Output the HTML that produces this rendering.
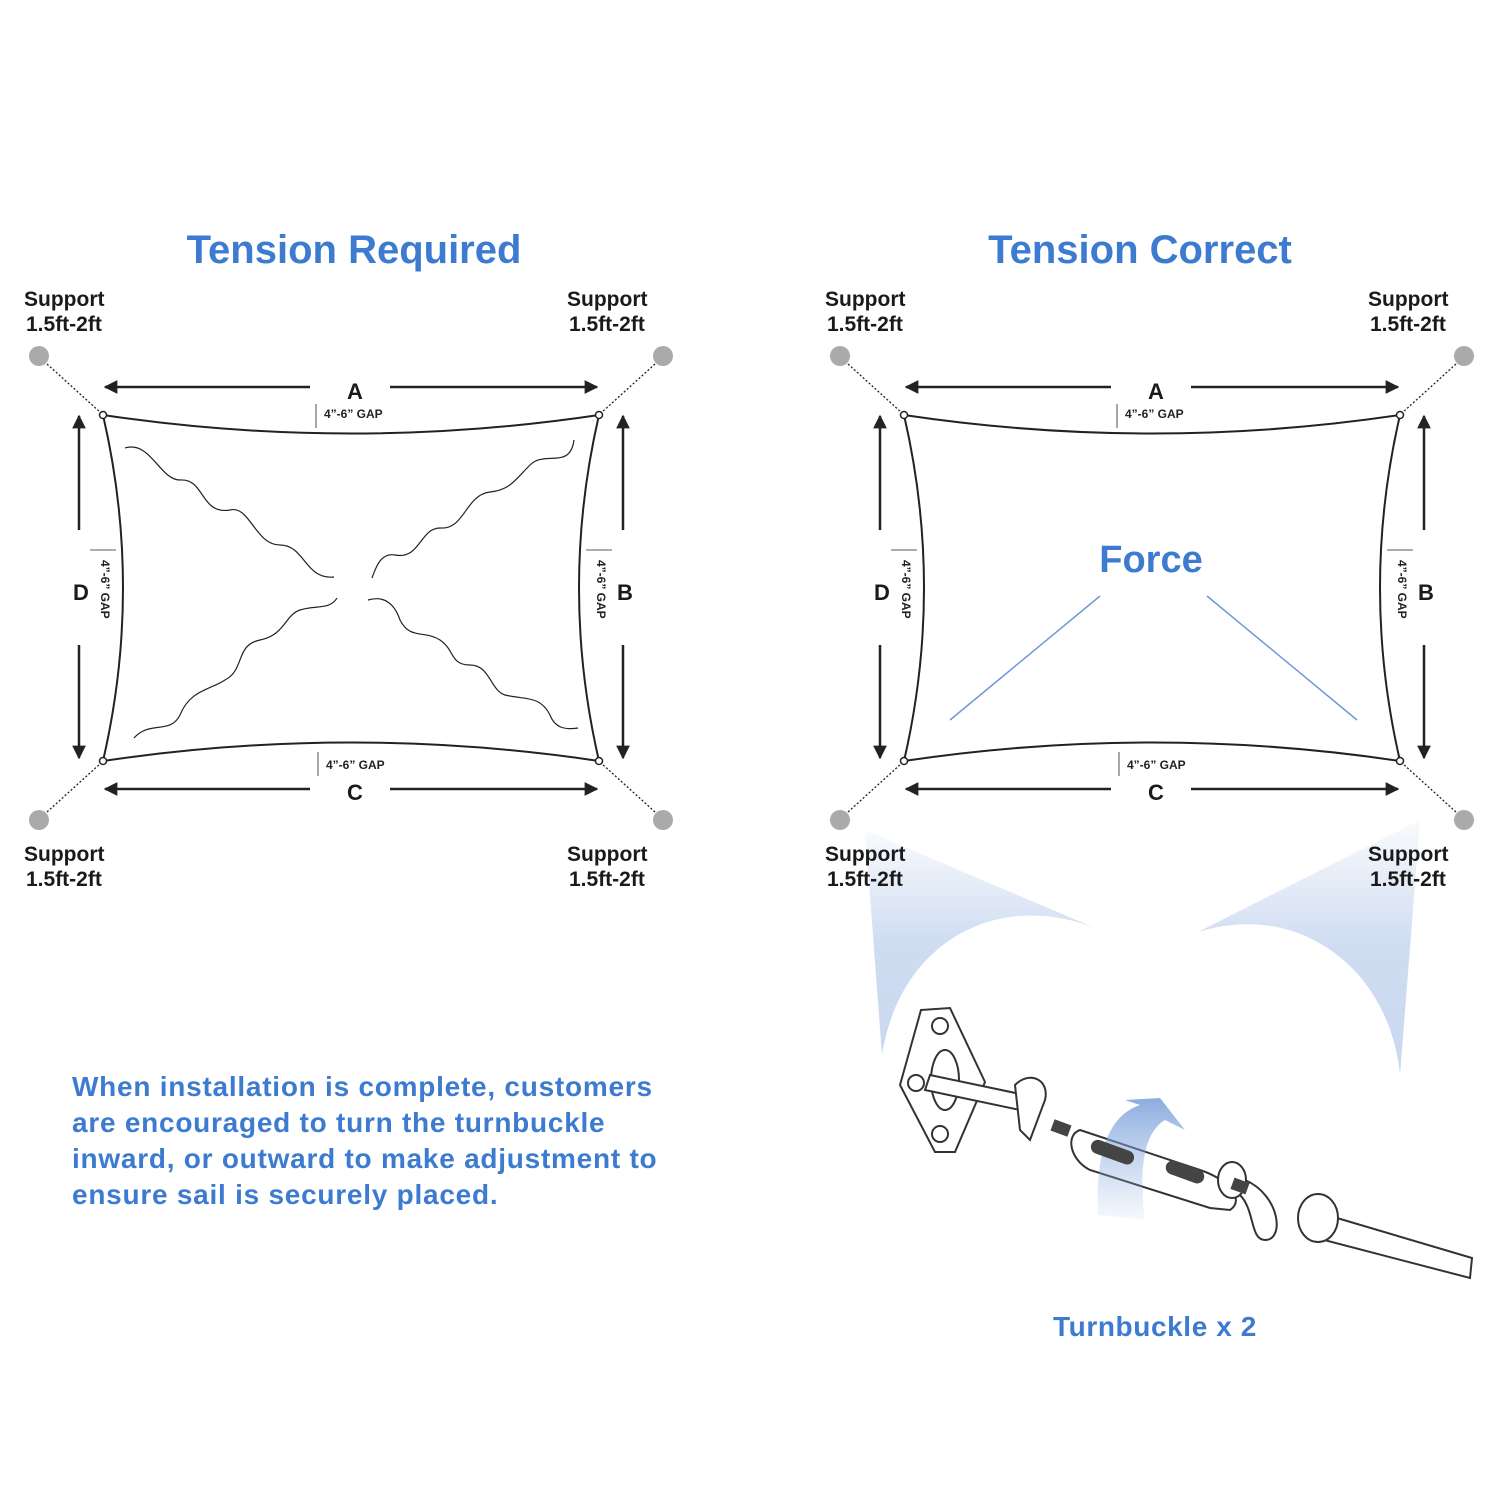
<!DOCTYPE html>
<html><head><meta charset="utf-8"><style>
body{margin:0;background:#fff}
svg{display:block}
text{font-family:"Liberation Sans",sans-serif}
</style></head><body>
<svg width="1500" height="1500" viewBox="0 0 1500 1500" xmlns="http://www.w3.org/2000/svg">
<defs>
<marker id="ah" viewBox="0 0 10 10" refX="9" refY="5" markerWidth="6.5" markerHeight="5.5" orient="auto-start-reverse"><path d="M0,0L10,5L0,10z" fill="#222"/></marker>
<linearGradient id="fl" x1="0" y1="0" x2="0" y2="1"><stop offset="0" stop-color="#c3d4ee" stop-opacity="0.1"/><stop offset="0.5" stop-color="#c3d4ee" stop-opacity="0.8"/><stop offset="1" stop-color="#c3d4ee" stop-opacity="0.9"/></linearGradient>
<linearGradient id="ar" x1="0" y1="1" x2="0" y2="0"><stop offset="0" stop-color="#8fb0e0" stop-opacity="0.1"/><stop offset="1" stop-color="#6f98d8"/></linearGradient>
</defs>
<g font-weight="bold" fill="#3d7bd0">
<text x="354" y="263" font-size="40" text-anchor="middle">Tension Required</text>
<text x="1140" y="263" font-size="40" text-anchor="middle">Tension Correct</text>
<text x="1151" y="572" font-size="38" text-anchor="middle">Force</text>
<text x="1155" y="1336" font-size="28" text-anchor="middle" letter-spacing="0.6">Turnbuckle x 2</text>
<g font-size="28" letter-spacing="0.75"><text x="72" y="1096">When installation is complete, customers</text><text x="72" y="1132">are encouraged to turn the turnbuckle</text><text x="72" y="1168">inward, or outward to make adjustment to</text><text x="72" y="1204">ensure sail is securely placed.</text></g>
</g>
<path d="M865,830 L1095,928 C1000,890 900,940 882,1055 Z" fill="url(#fl)"/>
<path d="M1420,820 L1198,932 C1300,900 1390,970 1400,1075 Z" fill="url(#fl)"/>
<g id="diag">
<g font-weight="bold" font-size="21" fill="#1a1a1a">
<text x="24" y="306">Support</text><text x="26" y="331">1.5ft-2ft</text>
<text x="567" y="306">Support</text><text x="569" y="331">1.5ft-2ft</text>
<text x="24" y="861">Support</text><text x="26" y="886">1.5ft-2ft</text>
<text x="567" y="861">Support</text><text x="569" y="886">1.5ft-2ft</text>
<text x="355" y="399" text-anchor="middle" font-size="22">A</text>
<text x="355" y="800" text-anchor="middle" font-size="22">C</text>
<text x="81" y="600" text-anchor="middle" font-size="22">D</text>
<text x="625" y="600" text-anchor="middle" font-size="22">B</text>
</g>
<g fill="#aaa"><circle cx="39" cy="356" r="10"/><circle cx="663" cy="356" r="10"/><circle cx="39" cy="820" r="10"/><circle cx="663" cy="820" r="10"/></g>
<g stroke="#222" stroke-width="1.3" stroke-dasharray="2,2"><line x1="47" y1="364" x2="101" y2="413"/><line x1="655" y1="364" x2="601" y2="413"/><line x1="47" y1="812" x2="101" y2="763"/><line x1="655" y1="812" x2="601" y2="763"/></g>
<path d="M103,415 Q351,452 599,415 Q559,588 599,761 Q351,724 103,761 Q143,588 103,415Z" fill="none" stroke="#222" stroke-width="2"/>
<g fill="#fff" stroke="#222" stroke-width="1.5"><circle cx="103" cy="415" r="3.5"/><circle cx="599" cy="415" r="3.5"/><circle cx="103" cy="761" r="3.5"/><circle cx="599" cy="761" r="3.5"/></g>
<g stroke="#222" stroke-width="2.5" marker-end="url(#ah)"><line x1="310" y1="387" x2="105" y2="387"/><line x1="390" y1="387" x2="597" y2="387"/><line x1="310" y1="789" x2="105" y2="789"/><line x1="390" y1="789" x2="597" y2="789"/>
<line x1="79" y1="530" x2="79" y2="416"/><line x1="79" y1="645" x2="79" y2="758"/><line x1="623" y1="530" x2="623" y2="416"/><line x1="623" y1="645" x2="623" y2="758"/></g>
<g font-weight="bold" font-size="12" fill="#222"><text x="324" y="418">4”-6” GAP</text><text x="326" y="769">4”-6” GAP</text>
<text transform="translate(101,560) rotate(90)">4”-6” GAP</text><text transform="translate(597,560) rotate(90)">4”-6” GAP</text></g>
<g stroke="#222" stroke-width="0.8"><line x1="316" y1="404" x2="316" y2="428"/><line x1="318" y1="752" x2="318" y2="776"/><line x1="90" y1="550" x2="116" y2="550"/><line x1="586" y1="550" x2="612" y2="550"/></g>
</g>
<use href="#diag" x="801"/>
<g fill="none" stroke="#222" stroke-width="1.2">
<path d="M125,448 C150,440 160,480 180,480 C205,478 200,515 230,510 C250,505 255,545 280,545 C305,545 305,580 334,577"/>
<path d="M574,440 C570,470 545,450 530,465 C515,480 510,490 490,492 C465,495 465,530 440,528 C420,528 420,560 395,555 C380,552 375,570 372,578"/>
<path d="M134,738 C150,720 170,735 180,715 C190,690 210,690 225,680 C245,670 235,645 260,640 C285,635 285,615 300,610 C315,605 330,610 337,598"/>
<path d="M368,600 C385,595 395,605 400,620 C410,640 425,630 440,640 C455,650 450,665 470,665 C490,665 490,690 505,695 C525,700 540,695 550,715 C555,728 565,730 578,728"/>
</g>
<g stroke="#6f98d8" stroke-width="1.5"><line x1="1100" y1="596" x2="950" y2="720"/><line x1="1207" y1="596" x2="1357" y2="720"/></g>
<g fill="#fff" stroke="#333" stroke-width="2">
<path d="M921,1010 L950,1008 L985,1082 L955,1152 L935,1152 L900,1085 Z"/>
<circle cx="940" cy="1026" r="8"/><circle cx="916" cy="1083" r="8"/><circle cx="940" cy="1134" r="8"/>
<ellipse cx="945" cy="1080" rx="14" ry="30"/>
<path d="M925,1090 L1020,1110 L1025,1095 L930,1075 Z"/>
<path d="M1015,1085 C1030,1070 1050,1080 1045,1100 L1030,1140 L1020,1130 Z"/>
<path d="M1080,1130 L1200,1170 C1230,1180 1245,1200 1230,1210 L1210,1208 L1090,1170 C1070,1160 1065,1135 1080,1130Z"/>
<path d="M1245,1180 C1280,1195 1285,1240 1265,1240 C1250,1240 1255,1210 1240,1195 Z"/>
<path d="M1310,1210 L1472,1258 L1470,1278 L1305,1235 Z"/>
<ellipse cx="1318" cy="1218" rx="20" ry="24"/>
<ellipse cx="1232" cy="1180" rx="14" ry="18"/>
</g>
<path d="M1098,1215 C1095,1150 1110,1115 1140,1105 L1125,1100 L1160,1098 L1185,1130 L1165,1120 C1140,1135 1140,1180 1145,1220 Z" fill="url(#ar)" opacity="0.8"/>
<g fill="#444"><rect x="1090" y="1145" width="45" height="14" rx="7" transform="rotate(20 1112 1152)"/><rect x="1165" y="1165" width="40" height="14" rx="7" transform="rotate(20 1185 1172)"/><rect x="1052" y="1122" width="18" height="12" transform="rotate(20 1061 1128)"/><rect x="1232" y="1180" width="16" height="12" transform="rotate(20 1240 1186)"/></g>
</svg>
</body></html>
